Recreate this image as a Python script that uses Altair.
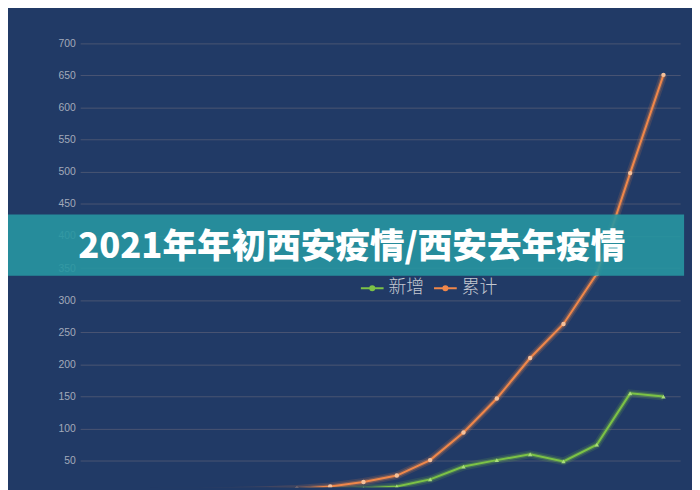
import altair as alt
import pandas as pd

days = ["12-09", "12-10", "12-11", "12-12", "12-13", "12-14", "12-15", "12-16", "12-17",
        "12-18", "12-19", "12-20", "12-21", "12-22", "12-23", "12-24", "12-25", "12-26"]
new_cases = [0, 0, 1, 0, 1, 1, 2, 4, 7, 10, 21, 41, 51, 60, 49, 75, 155, 150]
total_cases = [1, 1, 2, 2, 3, 4, 6, 10, 17, 27, 51, 94, 147, 210, 263, 341, 498, 651]
series_names = ["新增", "累计"]
series_colors = ["#7cc246", "#f0874a"]
point_fills = ["#a8dc7a", "#f5c09a"]
y_ticks = [50, 100, 150, 200, 250, 300, 350, 400, 450, 500, 550, 600, 650, 700]
title_text = "2021年年初西安疫情/西安去年疫情"

rows = []
for d, n, t in zip(days, new_cases, total_cases):
    rows.append({"day": d, "series": series_names[0], "value": n})
    rows.append({"day": d, "series": series_names[1], "value": t})
df = pd.DataFrame(rows)

x_enc = alt.X("day:O", sort=days, axis=None)
y_enc = alt.Y(
    "value:Q",
    scale=alt.Scale(domain=[8.8, 700], nice=False, zero=False),
    axis=alt.Axis(
        values=y_ticks, title=None, domain=False, ticks=False,
        labelColor="#a3aaba", labelFontSize=10.5, labelFont="Liberation Sans",
        labelPadding=5, gridColor="#4a5572", gridWidth=1,
    ),
)
color_scale = alt.Scale(domain=series_names, range=series_colors)

base = alt.Chart(df)

glow_wide = base.mark_line(strokeWidth=8, opacity=0.15, clip=True).encode(
    x=x_enc, y=y_enc, color=alt.Color("series:N", scale=color_scale, legend=None)
)
glow = base.mark_line(strokeWidth=4.5, opacity=0.3, clip=True).encode(
    x=x_enc, y=y_enc, color=alt.Color("series:N", scale=color_scale, legend=None)
)
lines = base.mark_line(strokeWidth=2, clip=True).encode(
    x=x_enc, y=y_enc,
    color=alt.Color(
        "series:N", scale=color_scale,
        legend=alt.Legend(
            title=None, orient="none", legendX=283, legendY=235, direction="horizontal",
            symbolType="M-1,0H1M-0.18,0A0.18,0.18,0,1,1,0.18,0A0.18,0.18,0,1,1,-0.18,0",
            symbolSize=529, symbolStrokeWidth=2,
            labelFont="Noto Sans CJK SC", labelFontSize=18, labelColor="#c4c8d1",
            labelFontWeight=300, labelOffset=4, columnPadding=6,
        ),
    ),
)
points = base.mark_point(filled=True, size=20, opacity=1, clip=True).encode(
    x=x_enc, y=y_enc,
    shape=alt.Shape("series:N", scale=alt.Scale(domain=series_names, range=["triangle-up", "circle"]), legend=None),
    color=alt.Color("series:N", scale=alt.Scale(domain=series_names, range=point_fills), legend=None),
)

banner_df = pd.DataFrame({"title": [title_text]})
banner = alt.Chart(banner_df).mark_rect(color="#2796a1", opacity=0.9).encode(
    x=alt.value(-73), x2=alt.value(611), y=alt.value(173), y2=alt.value(235)
)
title = alt.Chart(banner_df).mark_text(
    align="left", baseline="middle", font="Noto Sans CJK SC", fontWeight=900,
    fontSize=35, color="#ffffff"
).encode(x=alt.value(-2), y=alt.value(206), text="title:N")

chart = alt.layer(glow_wide, glow, lines, points, banner, title).resolve_scale(
    color="independent"
).properties(
    width=607, height=449,
    padding={"left": 73, "top": 33, "right": 12, "bottom": 0},
    autosize=alt.AutoSizeParams(type="none"),
    background="#213a66",
).configure_view(stroke=None)

chart.save("out.html", embed_options={"renderer": "svg", "actions": False})
